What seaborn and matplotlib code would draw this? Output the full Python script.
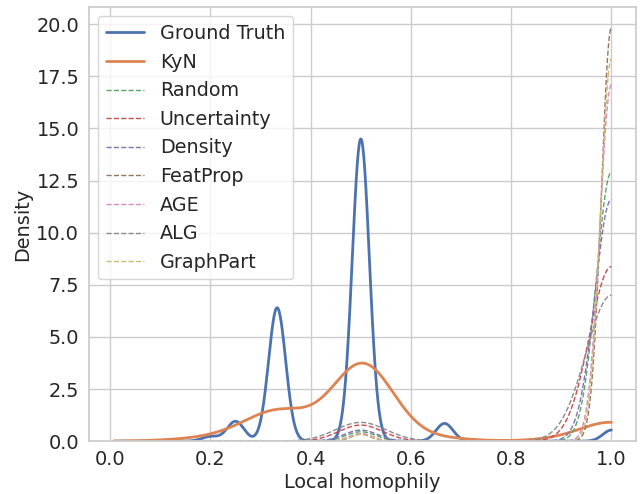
import numpy as np
import matplotlib
matplotlib.use("Agg")
import matplotlib.pyplot as plt
import seaborn as sns

# homophily values where the mass of each method sits
homophily = [0.15, 0.2, 0.25, 0.333, 0.4, 0.5, 0.55, 0.667, 0.9, 1.0]

# density height read at each homophily value (0 = no mass there)
ground_truth = [0.0, 0.22, 0.95, 6.4, 0.0, 14.5, 0.0, 0.85, 0.0, 0.53]
kyn          = [0.07, 0.0, 0.3, 1.2, 0.3, 3.3, 0.5, 0.12, 0.1, 0.88]
random_sel   = [0, 0, 0, 0, 0, 0.45, 0, 0, 0, 12.9]
uncertainty  = [0, 0, 0, 0, 0, 0.77, 0, 0, 0, 8.37]
density_sel  = [0, 0, 0, 0, 0, 0.53, 0, 0, 0, 11.6]
featprop     = [0, 0, 0, 0, 0, 0.33, 0, 0, 0, 19.84]
age          = [0, 0, 0, 0, 0, 0.37, 0, 0, 0, 17.1]
alg          = [0, 0, 0, 0, 0, 0.9, 0, 0, 0, 7.0]
graphpart    = [0, 0, 0, 0, 0, 0.33, 0, 0, 0, 18.35]

methods = ["Ground Truth", "KyN", "Random", "Uncertainty", "Density",
           "FeatProp", "AGE", "ALG", "GraphPart"]
heights = [ground_truth, kyn, random_sel, uncertainty, density_sel,
           featprop, age, alg, graphpart]

x_lo, x_hi = 0.007, 1.0

sns.set_theme(style="whitegrid")
plt.rcParams["font.family"] = ["DejaVu Sans"]
plt.rcParams["xtick.labelsize"] = 13.9
plt.rcParams["ytick.labelsize"] = 13.9
plt.rcParams["axes.labelsize"] = 13.9
plt.rcParams["legend.fontsize"] = 13.8
plt.rcParams["xtick.major.size"] = 3.5
plt.rcParams["ytick.major.size"] = 3.5
plt.rcParams["xtick.major.pad"] = 3.0
plt.rcParams["ytick.major.pad"] = 3.5
plt.rcParams["axes.labelpad"] = 3.0

colors = sns.color_palette("deep", len(methods))

fig, ax = plt.subplots(figsize=(6.44, 4.94), dpi=100)
x = np.array(homophily)
for i, (name, h) in enumerate(zip(methods, heights)):
    h = np.array(h, dtype=float)
    # bandwidth so that a lone point of height h is drawn with height h
    sigma = 1.0 / (np.sqrt(2 * np.pi) * h.sum())
    bw = sigma / np.sqrt(np.cov(x, aweights=h))
    if i < 2:
        style = dict(lw=2.0, ls="-")
    else:
        style = dict(lw=1.0, ls="--")
    sns.kdeplot(x=x, weights=h, bw_method=bw, clip=(x_lo, x_hi), cut=100,
                gridsize=1000, color=colors[i], label=name, ax=ax, **style)

ax.set_xlabel("Local homophily")
ax.set_ylabel("Density")
ax.legend(loc="upper left")
plt.subplots_adjust(left=0.138, right=0.988, top=0.986, bottom=0.107)
plt.savefig("out.png", dpi=100)
